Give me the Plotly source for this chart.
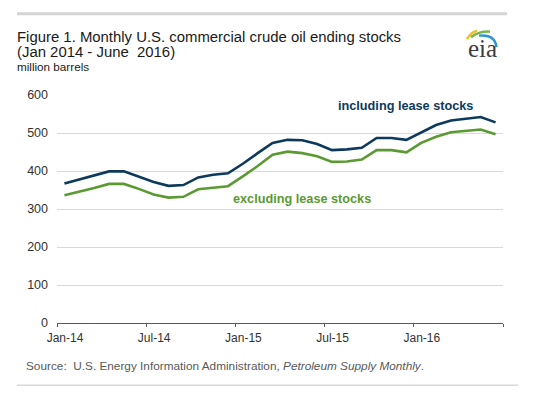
import plotly.graph_objects as go

# ---- data ----
months = ["Jan-14", "Feb-14", "Mar-14", "Apr-14", "May-14", "Jun-14",
          "Jul-14", "Aug-14", "Sep-14", "Oct-14", "Nov-14", "Dec-14",
          "Jan-15", "Feb-15", "Mar-15", "Apr-15", "May-15", "Jun-15",
          "Jul-15", "Aug-15", "Sep-15", "Oct-15", "Nov-15", "Dec-15",
          "Jan-16", "Feb-16", "Mar-16", "Apr-16", "May-16", "Jun-16"]
including_lease = [367, 378, 389, 399, 399, 384, 371, 361, 363, 383, 390, 394,
                   419, 447, 474, 482, 481, 471, 455, 457, 461, 487, 487, 482,
                   502, 521, 533, 538, 542, 528]
excluding_lease = [336, 345, 355, 366, 366, 353, 338, 330, 332, 352, 356, 360,
                   386, 413, 443, 451, 447, 439, 424, 425, 430, 455, 455, 449,
                   474, 490, 502, 505, 509, 497]
tick_labels = ["Jan-14", "Jul-14", "Jan-15", "Jul-15", "Jan-16", ""]
y_ticks = [0, 100, 200, 300, 400, 500, 600]

# ---- layout geometry (pixels) ----
W, H = 535, 393
L, R, T, B = 57, 503, 95, 323.5


def px(x):
    return (x - L) / (R - L)


def py(y):
    return (B - y) / (B - T)


FONT = "Arial, Liberation Sans, sans-serif"
BLUE = "#0d3a5c"
GREEN = "#5b9a32"

idx = list(range(len(months)))

fig = go.Figure()
fig.add_trace(go.Scatter(x=idx, y=including_lease, mode="lines",
                         line=dict(color=BLUE, width=2.6),
                         text=months, hoverinfo="text+y",
                         name="including lease stocks"))
fig.add_trace(go.Scatter(x=idx, y=excluding_lease, mode="lines",
                         line=dict(color=GREEN, width=2.6),
                         text=months, hoverinfo="text+y",
                         name="excluding lease stocks"))

n = len(months)
boundary_ticks = [i * 6 - 0.5 for i in range(len(tick_labels))]

fig.update_layout(
    width=W, height=H,
    margin=dict(l=L, r=W - R, t=T, b=H - B),
    paper_bgcolor="white", plot_bgcolor="white",
    showlegend=False,
    font=dict(family=FONT, color="#333333"),
    xaxis=dict(
        range=[-0.5, n - 0.5],
        tickmode="array", tickvals=boundary_ticks, ticktext=tick_labels,
        ticks="outside", ticklen=3, tickwidth=1, tickcolor="#595959",
        ticklabelshift=8, ticklabelstandoff=1,
        showline=True, linecolor="#595959", linewidth=1,
        showgrid=False, zeroline=False,
        tickfont=dict(size=12, family=FONT, color="#333333"),
        fixedrange=True,
    ),
    yaxis=dict(
        range=[0, 600],
        tickmode="array", tickvals=y_ticks,
        showgrid=True, gridcolor="#d9d9d9", gridwidth=1,
        zeroline=False, showline=False, ticks="",
        ticklabelstandoff=8,
        tickfont=dict(size=12.5, family=FONT, color="#333333"),
        fixedrange=True,
    ),
)

annotations = [
    dict(x=px(16), y=py(36.5), text="Figure 1. Monthly U.S. commercial crude oil ending stocks",
         xanchor="left", yanchor="middle", font=dict(size=14.9, color="#1a1a1a")),
    dict(x=px(16), y=py(51.5), text="(Jan 2014 - June  2016)",
         xanchor="left", yanchor="middle", font=dict(size=14.9, color="#1a1a1a")),
    dict(x=px(16), y=py(66.5), text="million barrels",
         xanchor="left", yanchor="middle", font=dict(size=11.7, color="#1a1a1a")),
    dict(x=px(405), y=py(106), text="<b>including lease stocks</b>",
         xanchor="center", yanchor="middle", font=dict(size=12.7, color=BLUE)),
    dict(x=px(302), y=py(199), text="<b>excluding lease stocks</b>",
         xanchor="center", yanchor="middle", font=dict(size=12.7, color=GREEN)),
    dict(x=px(25), y=py(366.5),
         text="Source:  U.S. Energy Information Administration, <i>Petroleum Supply Monthly</i>.",
         xanchor="left", yanchor="middle", font=dict(size=11.8, color="#595959")),
    dict(x=px(482), y=py(48), text="eia",
         xanchor="center", yanchor="middle",
         font=dict(size=25, color="#3d3d3d", family="Liberation Serif, DejaVu Serif, serif")),
]
for a in annotations:
    a.update(xref="paper", yref="paper", showarrow=False, borderpad=0)
fig.update_layout(annotations=annotations)

shapes = [
    # top separator
    dict(type="line", x0=px(17), x1=px(507), y0=py(13.5), y1=py(13.5),
         line=dict(color="#d4d4d4", width=3)),
    # bottom separator
    dict(type="line", x0=px(17), x1=px(518), y0=py(386), y1=py(386),
         line=dict(color="#d9d9d9", width=1.5)),
]


def qpath(p0, c, p1):
    return "M {:.4f},{:.4f} Q {:.4f},{:.4f} {:.4f},{:.4f}".format(
        px(p0[0]), py(p0[1]), px(c[0]), py(c[1]), px(p1[0]), py(p1[1]))


# eia logo arcs
shapes += [
    dict(type="path", path=qpath((467, 39), (471, 32), (477, 30.5)),
         line=dict(color="#f2c01e", width=2.5)),
    dict(type="path", path=qpath((471, 37), (479, 31), (490, 31.5)),
         line=dict(color="#7ab648", width=2.5)),
    dict(type="path", path=qpath((479, 35.5), (495, 34), (496.5, 47)),
         line=dict(color="#2e95d3", width=2.5)),
]
for s in shapes:
    s.update(xref="paper", yref="paper", layer="above")
fig.update_layout(shapes=shapes)

fig.write_html("out.html",
               config={"displayModeBar": False},
               post_script="document.body.style.margin='0';document.body.style.padding='0';")
